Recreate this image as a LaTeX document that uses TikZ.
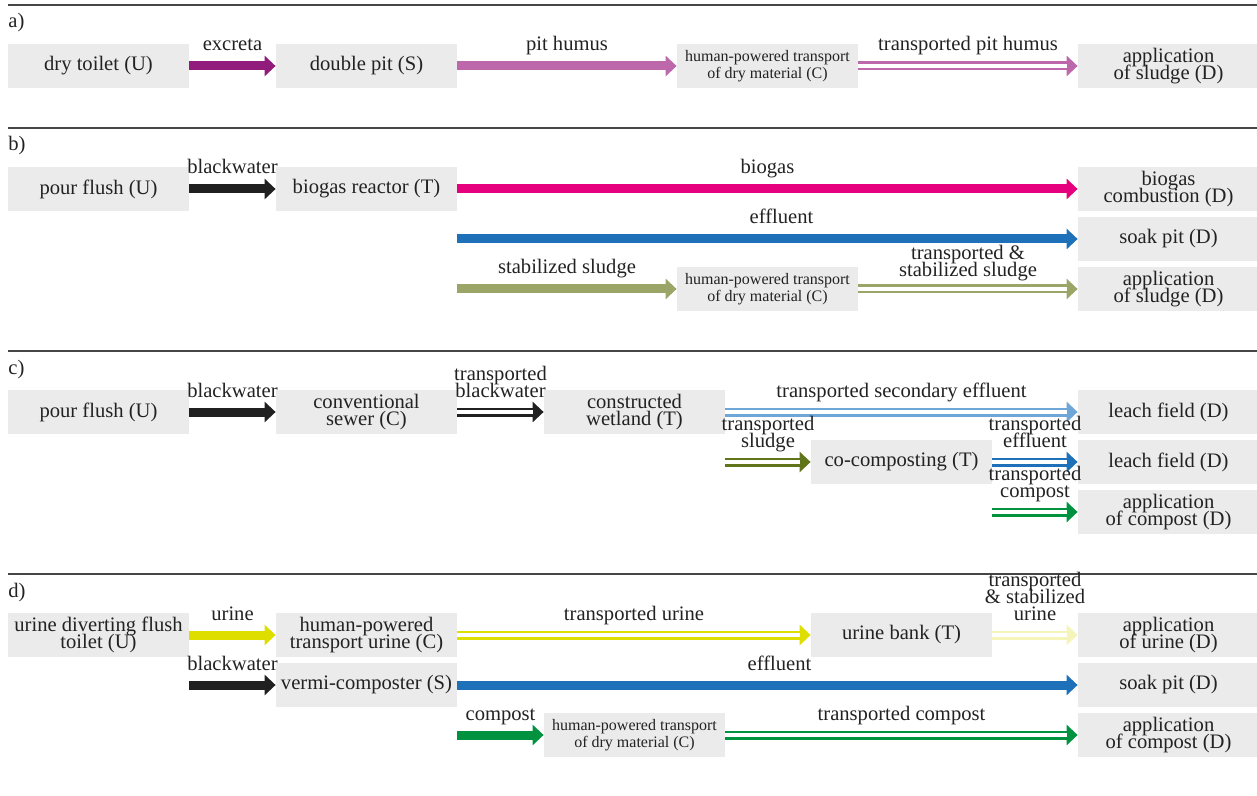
\documentclass[tikz,border=0pt]{standalone}
\usepackage{fontspec}
\setmainfont{Liberation Serif}
\usetikzlibrary{arrows.meta}

% palette
\definecolor{boxgray}{RGB}{235,235,235}
\definecolor{ink}{RGB}{34,34,34}
\definecolor{rulegray}{RGB}{70,70,70}
\definecolor{excretacol}{RGB}{145,28,124}
\definecolor{humuscol}{RGB}{189,104,170}
\definecolor{biogascol}{RGB}{230,0,126}
\definecolor{effluentcol}{RGB}{30,113,184}
\definecolor{sludgecol}{RGB}{155,165,103}
\definecolor{blackcol}{RGB}{32,32,32}
\definecolor{secondarycol}{RGB}{111,166,216}
\definecolor{darkolivecol}{RGB}{96,116,26}
\definecolor{compostcol}{RGB}{0,146,63}
\definecolor{urinecol}{RGB}{222,222,0}
\definecolor{paleurinecol}{RGB}{245,245,185}

% text sizes with tight line spacing
\newcommand\diagfont{\fontsize{10.3}{8.5}\selectfont\lineskiplimit=-50pt\lineskip=0pt}
\newcommand\diagsmallfont{\fontsize{8}{8.25}\selectfont\lineskiplimit=-50pt\lineskip=0pt}

\begin{document}
\begin{tikzpicture}[x=0.5pt,y=-0.5pt,
  box/.style={fill=boxgray, minimum width=90.5pt, minimum height=22pt,
    inner sep=0pt, align=center, font=\diagfont, text=ink},
  smallbox/.style={box, font=\diagsmallfont},
  flow/.style={line width=4.5pt, draw=#1, -{Triangle[length=5.5pt,width=10pt]}},
  dflow/.style={flow=#1, postaction={draw=white, line width=1.6pt, -, shorten >=5.5pt}},
  lbl/.style={anchor=south, inner sep=0pt, align=center, font=\diagfont,
    text=ink, yshift=2.75pt, execute at end node={\rule[-2.5pt]{0pt}{2.5pt}}},
  seclabel/.style={anchor=base west, inner sep=0pt, font=\diagfont, text=ink},
  sectionrule/.style={draw=rulegray, line width=0.6pt}
]
\useasboundingbox (0,0) rectangle (1257,796);

% ---------------- a) ----------------
\draw[sectionrule] (8,5) -- (1257,5);
\node[seclabel] (la) at (8,28) {a)};
\node[box] (a1) at (98.5,66) {dry toilet (U)};
\node[box] (a2) at (366.5,66) {double pit (S)};
\node[smallbox] (a3) at (767.5,66) {human-powered transport\\of dry material (C)};
\node[box] (a4) at (1168.5,66) {application\\of sludge (D)};
\draw[flow=excretacol] (a1.east) -- node[lbl] (la1) {excreta} (a2.west);
\draw[flow=humuscol] (a2.east) -- node[lbl] (la2) {pit humus} (a3.west);
\draw[dflow=humuscol] (a3.east) -- node[lbl] (la3) {transported pit humus} (a4.west);

% ---------------- b) ----------------
\draw[sectionrule] (8,128) -- (1257,128);
\node[seclabel] (lb) at (8,151) {b)};
\node[box] (b1) at (98.5,189) {pour flush (U)};
\node[box] (b2) at (366.5,189) {biogas reactor (T)};
\node[box] (b3) at (1168.5,189) {biogas\\combustion (D)};
\node[box] (b4) at (1168.5,239) {soak pit (D)};
\node[smallbox] (b5) at (767.5,289) {human-powered transport\\of dry material (C)};
\node[box] (b6) at (1168.5,289) {application\\of sludge (D)};
\draw[flow=blackcol] (b1.east) -- node[lbl] (lb1) {blackwater} (b2.west);
\draw[flow=biogascol] (b2.east) -- node[lbl] (lb2) {biogas} (b3.west);
\draw[flow=effluentcol] (b2.east |- b4.west) -- node[lbl, xshift=7pt] (lb3) {effluent} (b4.west);
\draw[flow=sludgecol] (b2.east |- b5.west) -- node[lbl] (lb4) {stabilized sludge} (b5.west);
\draw[dflow=sludgecol] (b5.east) -- node[lbl, yshift=-1.5pt] (lb5) {transported \&\\stabilized sludge} (b6.west);

% ---------------- c) ----------------
\draw[sectionrule] (8,351) -- (1257,351);
\node[seclabel] (lc) at (8,374) {c)};
\node[box] (c1) at (98.5,412) {pour flush (U)};
\node[box] (c2) at (366.5,412) {conventional\\sewer (C)};
\node[box] (c3) at (634.5,412) {constructed\\wetland (T)};
\node[box] (c4) at (1168.5,412) {leach field (D)};
\node[box] (c5) at (901.5,462) {co-composting (T)};
\node[box] (c6) at (1168.5,462) {leach field (D)};
\node[box] (c7) at (1168.5,512) {application\\of compost (D)};
\draw[flow=blackcol] (c1.east) -- node[lbl] (lc1) {blackwater} (c2.west);
\draw[dflow=blackcol] (c2.east) -- node[lbl] (lc2) {transported\\blackwater} (c3.west);
\draw[dflow=secondarycol] (c3.east) -- node[lbl] (lc3) {transported secondary effluent} (c4.west);
\draw[dflow=darkolivecol] (c3.east |- c5.west) -- node[lbl] (lc4) {transported\\sludge} (c5.west);
\draw[dflow=effluentcol] (c5.east) -- node[lbl] (lc5) {transported\\effluent} (c6.west);
\draw[dflow=compostcol] (c5.east |- c7.west) -- node[lbl] (lc6) {transported\\compost} (c7.west);

% ---------------- d) ----------------
\draw[sectionrule] (8,574) -- (1257,574);
\node[seclabel] (ld) at (8,597) {d)};
\node[box] (d1) at (98.5,635) {urine diverting flush\\toilet (U)};
\node[box] (d2) at (366.5,635) {human-powered\\transport urine (C)};
\node[box] (d3) at (901.5,635) {urine bank (T)};
\node[box] (d4) at (1168.5,635) {application\\of urine (D)};
\node[box] (d5) at (366.5,685) {vermi-composter (S)};
\node[box] (d6) at (1168.5,685) {soak pit (D)};
\node[smallbox] (d7) at (634.5,735) {human-powered transport\\of dry material (C)};
\node[box] (d8) at (1168.5,735) {application\\of compost (D)};
\draw[flow=urinecol] (d1.east) -- node[lbl] (ld1) {urine} (d2.west);
\draw[dflow=urinecol] (d2.east) -- node[lbl] (ld2) {transported urine} (d3.west);
\draw[dflow=paleurinecol] (d3.east) -- node[lbl] (ld3) {transported\\\& stabilized\\urine} (d4.west);
\draw[flow=blackcol] (d1.east |- d5.west) -- node[lbl] (ld4) {blackwater} (d5.west);
\draw[flow=effluentcol] (d5.east) -- node[lbl, xshift=6pt] (ld5) {effluent} (d6.west);
\draw[flow=compostcol] (d5.east |- d7.west) -- node[lbl] (ld6) {compost} (d7.west);
\draw[dflow=compostcol] (d7.east) -- node[lbl] (ld7) {transported compost} (d8.west);
\end{tikzpicture}
\end{document}
